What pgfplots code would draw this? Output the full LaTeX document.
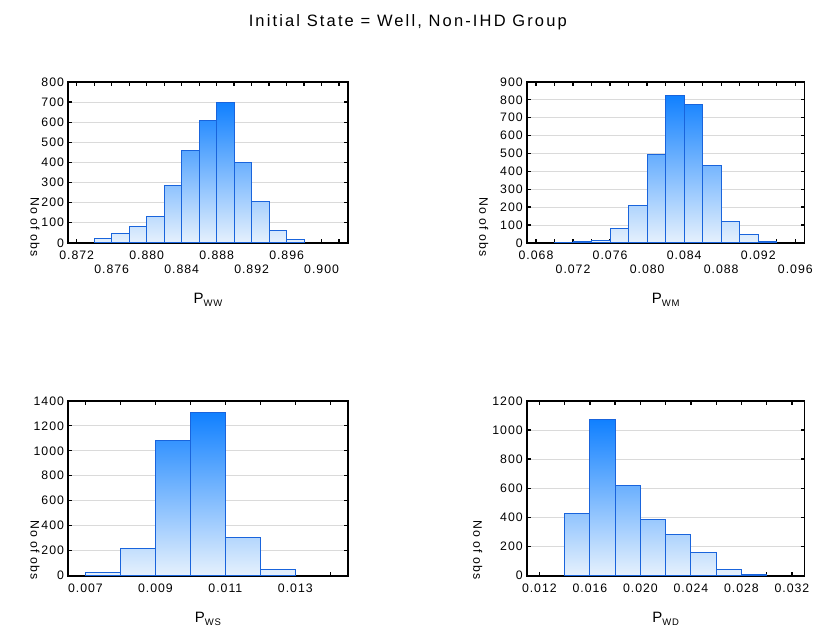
\documentclass[border=0pt]{standalone}
\usepackage{fontspec}
\setmainfont{Liberation Sans}
\newfontfamily\tickfont[LetterSpace=8]{Liberation Sans}
\newfontfamily\titlefont[LetterSpace=13]{Liberation Sans}
\usepackage{pgfplots}
\pgfplotsset{compat=1.18}

\definecolor{bartop}{RGB}{16,128,255}
\definecolor{barbot}{RGB}{230,241,253}
\definecolor{baredge}{RGB}{25,100,220}
\definecolor{gridc}{RGB}{218,218,218}

\pgfplotsset{
  layers/gridbehind/.define layer set={axis background,axis grid,pre main,main,axis ticks,axis lines,axis tick labels,axis descriptions,axis foreground}{},
  hist/.style={
    set layers=gridbehind,
    scale only axis,
    anchor=south west,
    ymin=0,
    scaled x ticks=false, scaled y ticks=false,
    axis line style={line width=1.6pt},
    every tick/.style={black, line width=1.3pt},
    major tick length=4pt, minor tick length=4pt,
    tick align=inside,
    ymajorgrids,
    y grid style={draw=gridc, line width=0.8pt},
    tick label style={font=\fontsize{12.3}{13}\selectfont\tickfont},
    yticklabel style={xshift=-0.5pt},
    xticklabel style={yshift=-5pt},
    /pgf/number format/assume math mode=true,
    /pgf/number format/1000 sep={},
    every axis x label/.style={at={(axis description cs:0.5,0)}, anchor=center, font=\fontsize{15}{16}\selectfont\tickfont},
    every axis y label/.style={at={(axis description cs:0,0)}, rotate=-90, anchor=east, font=\fontsize{12.3}{13}\selectfont\tickfont},
    ylabel={No of obs},
  },
  histbar/.style={ybar interval, draw=baredge, line width=1pt, top color=bartop, bottom color=barbot},
}
\newcommand{\sub}[1]{\raisebox{-0.45ex}{\fontsize{9.5}{10}\selectfont #1}}

\begin{document}
\begin{tikzpicture}
\path (0,0) rectangle (816pt,633pt);
\node[font=\fontsize{16.5}{18}\selectfont\titlefont] at (408pt,611pt) {Initial State = Well, Non-IHD Group};

% P_WW
\begin{axis}[hist, at={(68pt,390pt)}, width=280pt, height=161pt,
  xmin=0.871, xmax=0.903, ymax=800, ytick={0,100,200,300,400,500,600,700,800},
  xtick={0.872,0.874,0.876,0.878,0.880,0.882,0.884,0.886,0.888,0.890,0.892,0.894,0.896,0.898,0.900,0.902},
  xticklabels={0.872,,,,0.880,,,,0.888,,,,0.896,,,},
  extra x ticks={0.876,0.884,0.892,0.900},
  extra x tick labels={0.876,0.884,0.892,0.900},
  extra x tick style={xticklabel style={yshift=-14pt}},
  xlabel={P\sub{WW}},
  xlabel style={yshift=-57pt},
  ylabel style={xshift=17pt, yshift=-33pt},
]
\addplot[histbar] coordinates {
(0.874,23) (0.876,45) (0.878,83) (0.880,132) (0.882,283) (0.884,458)
(0.886,608) (0.888,699) (0.890,398) (0.892,207) (0.894,60) (0.896,17) (0.898,17)
};
\end{axis}

% P_WM
\begin{axis}[hist, at={(527pt,390pt)}, width=278pt, height=161pt,
  xmin=0.067, xmax=0.097, ymax=900, ytick={0,100,200,300,400,500,600,700,800,900},
  xtick={0.068,0.070,0.072,0.074,0.076,0.078,0.080,0.082,0.084,0.086,0.088,0.090,0.092,0.094,0.096},
  xticklabels={0.068,,,,0.076,,,,0.084,,,,0.092,,},
  extra x ticks={0.072,0.080,0.088,0.096},
  extra x tick labels={0.072,0.080,0.088,0.096},
  extra x tick style={xticklabel style={yshift=-14pt}},
  xlabel={P\sub{WM}},
  xlabel style={yshift=-57pt},
  ylabel style={xshift=17pt, yshift=-43pt},
]
\addplot[histbar] coordinates {
(0.070,3) (0.072,5) (0.074,15) (0.076,78) (0.078,208) (0.080,496)
(0.082,827) (0.084,774) (0.086,435) (0.088,119) (0.090,48) (0.092,7) (0.094,7)
};
\end{axis}

% P_WS
\begin{axis}[hist, at={(68pt,57pt)}, width=280pt, height=175pt,
  xmin=0.0065, xmax=0.0145, ymax=1400, ytick={0,200,400,600,800,1000,1200,1400},
  xtick={0.007,0.008,0.009,0.010,0.011,0.012,0.013,0.014},
  xticklabels={0.007,,0.009,,0.011,,0.013,},
  xlabel={P\sub{WS}},
  xlabel style={yshift=-43pt},
  ylabel style={xshift=7pt, yshift=-33pt},
]
\addplot[histbar] coordinates {
(0.007,22) (0.008,218) (0.009,1086) (0.010,1310) (0.011,303) (0.012,52) (0.013,52)
};
\end{axis}

% P_WD
\begin{axis}[hist, at={(527pt,57pt)}, width=278pt, height=175pt,
  xmin=0.011, xmax=0.033, ymax=1200, ytick={0,200,400,600,800,1000,1200},
  xtick={0.012,0.014,0.016,0.018,0.020,0.022,0.024,0.026,0.028,0.030,0.032},
  xticklabels={0.012,,0.016,,0.020,,0.024,,0.028,,0.032},
  xlabel={P\sub{WD}},
  xlabel style={yshift=-43pt},
  ylabel style={xshift=7pt, yshift=-49pt},
]
\addplot[histbar] coordinates {
(0.014,427) (0.016,1072) (0.018,616) (0.020,386) (0.022,283) (0.024,160)
(0.026,41) (0.028,11) (0.030,11)
};
\end{axis}
\end{tikzpicture}
\end{document}
